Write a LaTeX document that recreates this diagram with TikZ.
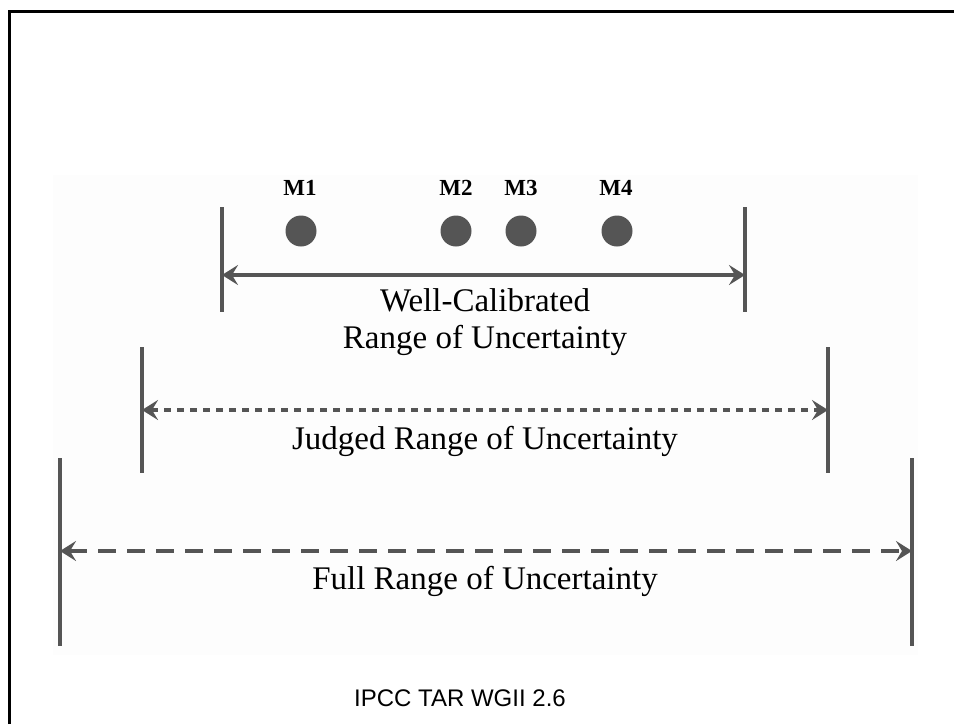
\documentclass[tikz,border=0pt]{standalone}
\usepackage{fontspec}
\setmainfont{Liberation Serif}
\newfontfamily\captionfont{Liberation Sans}
\usetikzlibrary{arrows.meta}
\definecolor{rangegray}{HTML}{555555}
\definecolor{panelgray}{HTML}{FDFDFD}

\tikzset{
    rangetick/.style = {draw = rangegray, line width = 4pt},
    rangearrow/.style = {draw = rangegray, line width = 4pt, {Stealth[length=16pt, width=20pt, inset=6pt]}-{Stealth[length=16pt, width=20pt, inset=6pt]}},
    model/.style = {circle, fill = rangegray, minimum size = 31pt, inner sep = 0pt},
    modellabel/.style = {font = \fontsize{23}{25}\selectfont\bfseries},
    rangelabel/.style = {font = \fontsize{33}{37}\selectfont, align = center}
}

\begin{document}
\begin{tikzpicture}[x = 1pt, y = -1pt]
        \useasboundingbox (0, 0) rectangle (954, 724);

        % Frame and panel
        \fill [panelgray] (53, 175) rectangle (918, 655);
        \draw [line width = 3pt] (9, 724) -- (9, 11) -- (954, 11);

        % Models
        \node [model] (m1) at (301, 231) {};
        \node [model] (m2) at (456, 231) {};
        \node [model] (m3) at (521, 231) {};
        \node [model] (m4) at (617, 231) {};
        \node [modellabel] at (300, 188) {M1};
        \node [modellabel] at (456, 188) {M2};
        \node [modellabel] at (521, 188) {M3};
        \node [modellabel] at (616, 188) {M4};

        % Ends
        \coordinate (wl) at (222, 275);
        \coordinate (wr) at (745, 275);
        \coordinate (jl) at (142, 410);
        \coordinate (jr) at (828, 410);
        \coordinate (fl) at (60, 551);
        \coordinate (fr) at (912, 551);

        % Ticks
        \draw [rangetick] (222, 207) -- (222, 312);
        \draw [rangetick] (745, 207) -- (745, 312);
        \draw [rangetick] (142, 347) -- (142, 473);
        \draw [rangetick] (828, 347) -- (828, 473);
        \draw [rangetick] (60, 458) -- (60, 646);
        \draw [rangetick] (912, 458) -- (912, 646);

        % Ranges
        \draw [rangearrow] (wl) -- (wr);
        \draw [rangearrow, dash pattern = on 7pt off 6pt] (jl) -- (jr);
        \draw [rangearrow, dash pattern = on 18pt off 11pt] (fl) -- (fr);

        % Labels
        \node [rangelabel] (well) at (485, 322) {Well-Calibrated\\Range of Uncertainty};
        \node [rangelabel] (judged) at (485, 441) {Judged Range of Uncertainty};
        \node [rangelabel] (full) at (485, 581) {Full Range of Uncertainty};
        \node [font = \captionfont\fontsize{24}{26}\selectfont] (src) at (460, 698) {IPCC TAR WGII 2.6};

    \end{tikzpicture}
\end{document}
